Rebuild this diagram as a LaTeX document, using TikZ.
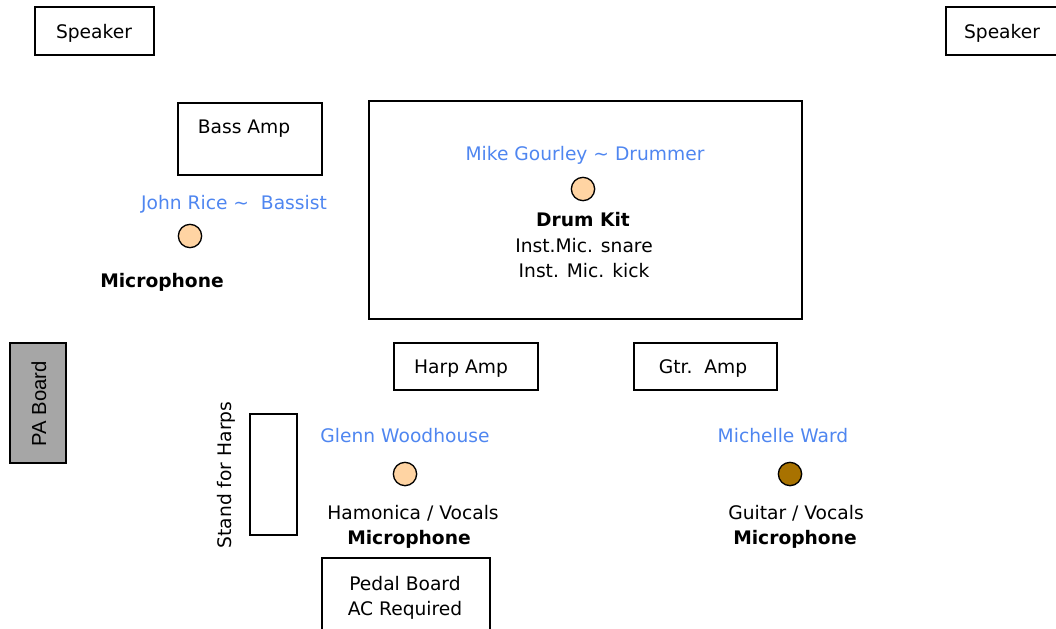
\documentclass[tikz,border=0pt]{standalone}
\usepackage{fontspec}
\setmainfont{DejaVu Sans}
\newfontfamily\arialfont{Liberation Sans}
\definecolor{nameblue}{RGB}{79,134,240}
\definecolor{peach}{RGB}{255,212,163}
\definecolor{brownmic}{RGB}{168,114,0}
\definecolor{boardgray}{RGB}{166,166,166}
\begin{document}
\begin{tikzpicture}[
    x=0.75pt, y=-0.75pt,
    every node/.style={font=\fontsize{14}{18.75}\selectfont},
    box/.style={rectangle, draw, line width=1.1pt, inner sep=0pt},
    boxtext/.style={text depth=0pt, text height=7pt},
    lbl/.style={yshift=-1.5pt},
    mic/.style={circle, draw, line width=1pt, fill=peach, minimum size=17.5pt, inner sep=0pt},
    player/.style={lbl, text=nameblue},
    micnote/.style={lbl, font=\fontsize{14}{18.75}\selectfont\bfseries}
]
    \clip (0,0) rectangle (1056,628);
    \useasboundingbox (0,0) rectangle (1056,628);

    % Speakers
    \node[box, minimum width=89.25pt, minimum height=36pt] (spkL) at (94.5,31) {};
    \node[lbl] (spkLtext) at (94,31) {Speaker};
    \node[box, minimum width=89.25pt, minimum height=36pt] (spkR) at (1005.5,31) {};
    \node[lbl] (spkRtext) at (1002,31) {Speaker};

    % Bass player
    \node[box, minimum width=108pt, minimum height=54pt] (bassamp) at (250,139) {};
    \node[lbl] (bassamptext) at (244,127) {Bass Amp};
    \node[player] (bassname) at (234,202) {John Rice \textasciitilde\ \ Bassist};
    \node[mic] (bassmic) at (190,236) {};
    \node[micnote] (bassnote) at (162,280) {Microphone};

    % Drummer
    \node[box, minimum width=324.75pt, minimum height=163.5pt] (drumriser) at (585.5,210) {};
    \node[player] (drumname) at (585,153) {Mike Gourley \textasciitilde\ Drummer};
    \node[mic] (drummic) at (583,189) {};
    \node[micnote] (drumkit) at (583,218) {Drum Kit};
    \node[lbl, align=center] (drumnote) at (584,256) {Inst.Mic. snare\\Inst. Mic. kick};

    % Amps
    \node[box, minimum width=108pt, minimum height=35.25pt] (harpamp) at (466,366.5) {};
    \node[lbl] (harpamptext) at (461,366.5) {Harp Amp};
    \node[box, minimum width=107.25pt, minimum height=35.25pt] (gtramp) at (705.5,366.5) {};
    \node[lbl] (gtramptext) at (703,366.5) {Gtr.\ \ Amp};

    % PA board
    \node[box, fill=boardgray, minimum width=42pt, minimum height=90pt] (paboard) at (38,403) {};
    \node[rotate=90, font=\arialfont\fontsize{15.2}{17}\selectfont] (patext) at (39,404) {PA Board};

    % Harmonica player
    \node[box, minimum width=35.25pt, minimum height=90.75pt] (stand) at (273.5,474.5) {};
    \node[rotate=90] (standtext) at (226,475) {Stand for Harps};
    \node[player] (harpname) at (405,434) {Glenn Woodhouse};
    \node[mic] (harpmic) at (405,474) {};
    \node[lbl] (harpnote) at (413,511) {Hamonica / Vocals};
    \node[micnote] (harpmicnote) at (409,537) {Microphone};
    \node[box, minimum width=126pt, minimum height=61.5pt] (pedal) at (406,599) {};
    \node[lbl, align=center] (pedaltext) at (405,596) {Pedal Board\\AC Required};

    % Guitar player
    \node[player] (gtrname) at (783,434) {Michelle Ward};
    \node[mic, fill=brownmic] (gtrmic) at (790,474) {};
    \node[lbl] (gtrnote) at (796,511) {Guitar / Vocals};
    \node[micnote] (gtrmicnote) at (795,537) {Microphone};
\end{tikzpicture}
\end{document}
